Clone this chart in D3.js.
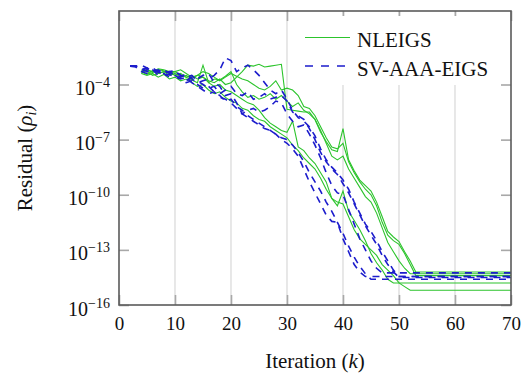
<!DOCTYPE html>
<html>
<head>
<meta charset="utf-8">
<script src="https://cdn.jsdelivr.net/npm/d3@7"></script>
<style>
  body { margin: 0; background: #fff; }
  svg, svg text { font-family: "Liberation Serif", "Times New Roman", Times, serif; }
</style>
</head>
<body>
<div id="chart"></div>
<script>
// Tick values
const ITER_TICKS = [0, 10, 20, 30, 40, 50, 60, 70];
const RES_EXPONENTS = [-16, -13, -10, -7, -4];

// Series: [iteration, log10(residual)]
const nleigs1 = [[4,-3.3],[5,-3.45],[6,-3.25],[7,-3.4],[8,-3.3],[9,-3.35],[10,-3.5],[11,-3.4],[12,-3.6],[13,-3.5],[14,-3.7],[15,-3.6],[16,-3.8],[17,-3.9],[18,-3.7],[19,-4.0],[20,-3.9],[21,-3.6],[22,-3.3],[23,-2.95],[24,-3.0],[25,-2.9],[26,-3.05],[27,-3.0],[28,-2.95],[29,-2.9],[30,-5.35],[31,-5.4],[32,-5.45],[33,-5.5],[34,-5.5],[35,-5.9],[36,-6.6],[37,-7.1],[38,-7.55],[39,-7.65],[40,-6.4],[41,-8.1],[42,-8.7],[43,-9.2],[44,-9.5],[45,-9.8],[46,-10.4],[47,-11.2],[48,-12.0],[49,-12.3],[50,-12.55],[51,-13.1],[52,-13.6],[53,-14.2],[70,-14.2]];
const nleigs2 = [[4,-3.4],[5,-3.2],[6,-3.3],[7,-3.15],[8,-3.2],[9,-3.3],[10,-3.3],[11,-3.2],[12,-3.4],[13,-3.6],[14,-3.5],[15,-3.3],[16,-3.4],[17,-3.6],[18,-3.8],[19,-3.6],[20,-3.4],[21,-3.55],[22,-3.7],[23,-3.8],[24,-4.0],[25,-4.2],[26,-4.3],[27,-4.1],[28,-3.8],[29,-4.3],[30,-4.2],[31,-4.3],[32,-4.6],[33,-5.2],[34,-5.3],[35,-5.7],[36,-6.3],[37,-6.9],[38,-7.4],[39,-7.5],[40,-7.2],[41,-8.2],[42,-8.8],[43,-9.3],[44,-9.7],[45,-10.0],[46,-10.6],[47,-11.5],[48,-12.2],[49,-12.5],[50,-12.7],[51,-13.2],[52,-13.8],[53,-14.4],[70,-14.4]];
const nleigs3 = [[4,-3.2],[5,-3.3],[6,-3.5],[7,-3.4],[8,-3.3],[9,-3.5],[10,-3.4],[11,-3.6],[12,-3.5],[13,-3.7],[14,-3.5],[15,-3.6],[16,-3.9],[17,-4.1],[18,-4.0],[19,-4.3],[20,-4.4],[21,-4.6],[22,-4.8],[23,-5.0],[24,-5.1],[25,-5.4],[26,-5.8],[27,-6.1],[28,-6.3],[29,-6.5],[30,-6.6],[31,-6.0],[32,-7.4],[33,-7.6],[34,-8.0],[35,-8.3],[36,-8.8],[37,-9.3],[38,-10.2],[39,-10.6],[40,-9.8],[41,-10.9],[42,-11.4],[43,-11.9],[44,-12.5],[45,-13.2],[46,-13.7],[47,-14.1],[48,-14.6],[49,-14.8],[70,-14.8]];
const nleigs4 = [[4,-3.4],[5,-3.5],[6,-3.4],[7,-3.6],[8,-3.45],[9,-3.7],[10,-3.6],[11,-3.8],[12,-3.7],[13,-3.9],[14,-4.1],[15,-4.0],[16,-4.3],[17,-4.5],[18,-4.4],[19,-4.7],[20,-4.9],[21,-5.0],[22,-5.3],[23,-5.4],[24,-5.7],[25,-5.9],[26,-6.0],[27,-6.3],[28,-6.5],[29,-6.7],[30,-6.9],[31,-7.3],[32,-7.6],[33,-8.0],[34,-8.3],[35,-8.6],[36,-9.1],[37,-9.7],[38,-10.2],[39,-10.4],[40,-10.5],[41,-11.2],[42,-11.9],[43,-12.4],[44,-12.7],[45,-13.0],[46,-13.3],[47,-13.8],[48,-14.1],[49,-14.4],[50,-14.8],[51,-15.0],[52,-15.2],[70,-15.2]];
const nleigs5 = [[4,-3.3],[5,-3.2],[6,-3.35],[7,-3.2],[8,-3.25],[9,-3.4],[10,-3.3],[11,-3.5],[12,-3.6],[13,-3.75],[14,-3.9],[15,-2.95],[16,-3.9],[17,-3.7],[18,-3.75],[19,-3.55],[20,-3.3],[21,-4.0],[22,-4.4],[23,-4.7],[24,-4.6],[25,-4.8],[26,-4.7],[27,-4.5],[28,-4.8],[29,-4.6],[30,-4.9],[31,-5.2],[32,-5.0],[33,-5.4],[34,-5.6],[35,-5.9],[36,-6.5],[37,-7.2],[38,-7.9],[39,-8.1],[40,-7.9],[41,-8.6],[42,-9.1],[43,-9.6],[44,-10.1],[45,-10.4],[46,-11.0],[47,-11.8],[48,-12.6],[49,-13.1],[50,-13.6],[51,-14.0],[52,-14.3],[70,-14.3]];

const svaaa1 = [[2,-3.0],[3,-3.0],[4,-3.1],[5,-3.3],[6,-3.2],[7,-3.35],[8,-3.4],[9,-3.3],[10,-3.5],[11,-3.6],[12,-3.4],[13,-3.7],[14,-3.9],[15,-3.8],[16,-3.7],[17,-3.5],[18,-3.2],[19,-2.55],[20,-2.7],[21,-3.3],[22,-3.1],[23,-2.95],[24,-3.2],[25,-3.5],[26,-3.9],[27,-4.3],[28,-4.5],[29,-4.3],[30,-4.8],[31,-5.4],[32,-5.8],[33,-6.0],[34,-6.3],[35,-6.8],[36,-7.5],[37,-8.1],[38,-8.5],[39,-8.8],[40,-9.2],[41,-9.7],[42,-10.4],[43,-11.0],[44,-11.6],[45,-12.0],[46,-12.5],[47,-13.1],[48,-13.6],[49,-14.1],[50,-14.45],[70,-14.45]];
const svaaa2 = [[2,-3.0],[3,-3.0],[4,-2.95],[5,-3.1],[6,-3.3],[7,-3.2],[8,-3.4],[9,-3.3],[10,-3.25],[11,-3.5],[12,-3.6],[13,-3.5],[14,-3.8],[15,-4.0],[16,-4.2],[17,-4.1],[18,-4.5],[19,-4.3],[20,-4.1],[21,-4.5],[22,-4.6],[23,-4.4],[24,-4.8],[25,-4.7],[26,-4.5],[27,-4.8],[28,-4.7],[29,-4.6],[30,-4.9],[31,-5.5],[32,-5.7],[33,-5.9],[34,-6.4],[35,-7.0],[36,-7.7],[37,-8.2],[38,-8.6],[39,-8.9],[40,-9.4],[41,-9.9],[42,-10.5],[43,-11.1],[44,-11.7],[45,-12.2],[46,-12.7],[47,-13.3],[48,-13.8],[49,-14.2],[50,-14.5],[70,-14.5]];
const svaaa3 = [[2,-3.0],[3,-3.0],[4,-3.3],[5,-3.4],[6,-3.2],[7,-3.5],[8,-3.4],[9,-3.6],[10,-3.5],[11,-3.7],[12,-3.9],[13,-3.8],[14,-4.0],[15,-4.2],[16,-4.1],[17,-4.4],[18,-4.6],[19,-4.9],[20,-4.8],[21,-5.2],[22,-5.4],[23,-5.7],[24,-5.9],[25,-6.1],[26,-6.3],[27,-6.5],[28,-6.7],[29,-6.9],[30,-7.0],[31,-7.3],[32,-7.7],[33,-8.2],[34,-8.8],[35,-9.3],[36,-9.8],[37,-10.4],[38,-10.9],[39,-11.5],[40,-12.1],[41,-12.8],[42,-13.4],[43,-13.9],[44,-14.3],[45,-14.6],[70,-14.6]];
const svaaa4 = [[2,-3.0],[3,-3.0],[4,-3.2],[5,-3.1],[6,-3.3],[7,-3.25],[8,-3.5],[9,-3.45],[10,-3.6],[11,-3.7],[12,-3.6],[13,-3.9],[14,-4.1],[15,-4.3],[16,-4.5],[17,-4.4],[18,-4.7],[19,-4.8],[20,-5.0],[21,-5.3],[22,-5.6],[23,-5.8],[24,-6.0],[25,-6.2],[26,-6.4],[27,-6.5],[28,-6.7],[29,-7.0],[30,-7.2],[31,-7.5],[32,-7.9],[33,-8.6],[34,-9.3],[35,-9.9],[36,-10.5],[37,-11.1],[38,-11.45],[39,-11.5],[40,-12.4],[41,-13.1],[42,-13.8],[43,-14.2],[44,-14.45],[70,-14.45]];
const svaaa5 = [[2,-3.0],[3,-3.05],[4,-3.3],[5,-3.2],[6,-3.1],[7,-3.3],[8,-3.2],[9,-3.4],[10,-3.3],[11,-3.5],[12,-3.8],[13,-3.6],[14,-3.7],[15,-3.5],[16,-3.4],[17,-3.9],[18,-4.1],[19,-4.6],[20,-4.5],[21,-5.0],[22,-5.6],[23,-5.4],[24,-5.3],[25,-5.5],[26,-5.4],[27,-5.2],[28,-4.9],[29,-5.0],[30,-5.6],[31,-6.0],[32,-6.3],[33,-6.2],[34,-6.7],[35,-7.3],[36,-8.0],[37,-8.8],[38,-9.5],[39,-9.9],[40,-10.0],[41,-10.8],[42,-11.6],[43,-12.4],[44,-13.0],[45,-13.6],[46,-14.0],[47,-14.25],[70,-14.25]];

const NLEIGS = [nleigs1, nleigs2, nleigs3, nleigs4, nleigs5];
const SVAAA = [svaaa1, svaaa2, svaaa3, svaaa4, svaaa5];

// Layout
const W = 525, H = 377;
const margin = { top: 11, right: 14, bottom: 72, left: 119 };
const width = W - margin.left - margin.right;
const height = H - margin.top - margin.bottom;

const FONT = "'Liberation Serif', 'Times New Roman', Times, serif";
const GREEN = "#2cc42c";
const BLUE = "#1c1ccc";

const svg = d3.select("#chart")
  .append("svg")
  .attr("width", W)
  .attr("height", H)
  .style("font-family", FONT);

const g = svg.append("g")
  .attr("transform", "translate(" + margin.left + "," + margin.top + ")");

// Scales
const x = d3.scaleLinear().domain([0, 70]).range([0, width]);
const y = d3.scaleLog().domain([1e-16, 1]).range([height, 0]);

// Vertical grid lines
g.selectAll("line.grid")
  .data(ITER_TICKS.slice(1, -1))
  .enter()
  .append("line")
  .attr("class", "grid")
  .attr("x1", d => x(d))
  .attr("x2", d => x(d))
  .attr("y1", 0)
  .attr("y2", height)
  .attr("stroke", "#e2e2e2")
  .attr("stroke-width", 1.6);

// Line generator
const line = d3.line()
  .x(d => x(d[0]))
  .y(d => y(Math.pow(10, d[1])));

// NLEIGS
g.selectAll("path.nleigs")
  .data(NLEIGS)
  .enter()
  .append("path")
  .attr("class", "nleigs")
  .attr("d", line)
  .attr("fill", "none")
  .attr("stroke", GREEN)
  .attr("stroke-width", 1.1);

// SV-AAA-EIGS
g.selectAll("path.svaaa")
  .data(SVAAA)
  .enter()
  .append("path")
  .attr("class", "svaaa")
  .attr("d", line)
  .attr("fill", "none")
  .attr("stroke", BLUE)
  .attr("stroke-width", 1.6)
  .attr("stroke-dasharray", "7,6");

// Axes (ticks inside)
const gX = g.append("g")
  .attr("transform", "translate(0," + height + ")")
  .call(d3.axisBottom(x).tickValues(ITER_TICKS).tickSizeInner(-10).tickSizeOuter(0).tickPadding(11.5));

const gXTop = g.append("g")
  .call(d3.axisTop(x).tickValues(ITER_TICKS).tickSizeInner(-10).tickSizeOuter(0).tickFormat(""));

const yTickValues = RES_EXPONENTS.map(e => Math.pow(10, e));

const gY = g.append("g")
  .call(d3.axisLeft(y).tickValues(yTickValues).tickSizeInner(-10).tickSizeOuter(0).tickFormat(""));

const gYRight = g.append("g")
  .attr("transform", "translate(" + width + ",0)")
  .call(d3.axisRight(y).tickValues(yTickValues).tickSizeInner(-10).tickSizeOuter(0).tickFormat(""));

[gX, gXTop, gY, gYRight].forEach(a => {
  a.attr("font-family", null);
  a.select(".domain").remove();
  a.selectAll(".tick line").attr("stroke", "#a8a8a8").attr("stroke-width", 1.6);
});

gX.selectAll("text")
  .attr("fill", "#111")
  .style("font-size", "19px");

// y tick labels as powers of ten
gY.selectAll(".tick")
  .append("text")
  .attr("x", -9)
  .attr("y", 10)
  .attr("text-anchor", "end")
  .attr("fill", "#111")
  .style("font-size", "20px")
  .each(function (d, i) {
    const t = d3.select(this);
    t.append("tspan").text("10");
    t.append("tspan")
      .attr("dy", -8)
      .style("font-size", "14px")
      .text("\u2212" + Math.abs(RES_EXPONENTS[i]));
  });

// Frame
g.append("rect")
  .attr("width", width)
  .attr("height", height)
  .attr("fill", "none")
  .attr("stroke", "#5a5a5a")
  .attr("stroke-width", 1.6);

// Axis labels
const xLabel = svg.append("text")
  .attr("x", margin.left + width / 2)
  .attr("y", 368)
  .attr("text-anchor", "middle")
  .attr("fill", "#111")
  .style("font-size", "21px");
xLabel.append("tspan").text("Iteration (");
xLabel.append("tspan").style("font-style", "italic").text("k");
xLabel.append("tspan").text(")");

const yLabel = svg.append("text")
  .attr("transform", "translate(32," + (margin.top + height / 2) + ") rotate(-90)")
  .attr("text-anchor", "middle")
  .attr("fill", "#111")
  .style("font-size", "21px");
yLabel.append("tspan").text("Residual (");
yLabel.append("tspan").style("font-style", "italic").text("\u03c1");
yLabel.append("tspan").attr("dy", 4).style("font-style", "italic").style("font-size", "14px").text("i");
yLabel.append("tspan").attr("dy", -4).text(")");

// Legend
const legend = svg.append("g");
legend.append("rect")
  .attr("x", 297)
  .attr("y", 16)
  .attr("width", 200)
  .attr("height", 69)
  .attr("fill", "#fff");

const legendItems = [
  { name: "NLEIGS", color: GREEN, width: 1.1, dash: null, y: 37.5 },
  { name: "SV-AAA-EIGS", color: BLUE, width: 1.6, dash: "8,8", y: 66 }
];

legendItems.forEach(item => {
  legend.append("line")
    .attr("x1", 305)
    .attr("x2", 350)
    .attr("y1", item.y)
    .attr("y2", item.y)
    .attr("stroke", item.color)
    .attr("stroke-width", item.width)
    .attr("stroke-dasharray", item.dash);
  legend.append("text")
    .attr("x", 357)
    .attr("y", item.y + 9.5)
    .attr("fill", "#111")
    .style("font-size", "21px")
    .text(item.name);
});
</script>
</body>
</html>
